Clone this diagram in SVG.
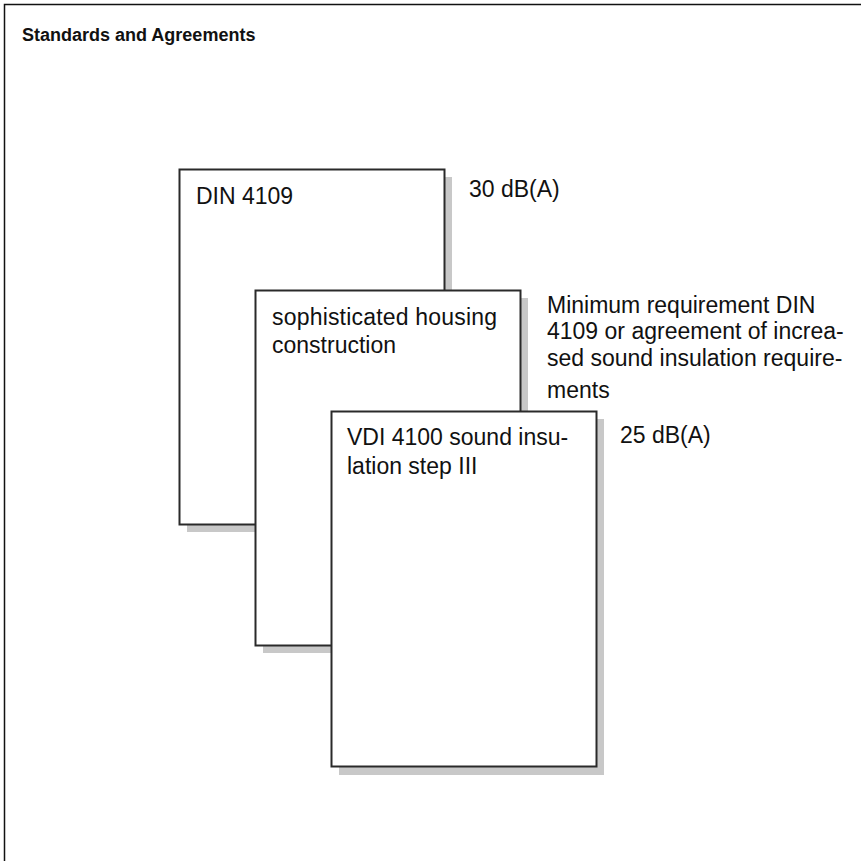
<svg xmlns="http://www.w3.org/2000/svg" width="861" height="861" viewBox="0 0 861 861">
<style>
.frame{fill:none;stroke:#111;stroke-width:1.5}
.box{fill:#fff;stroke:#2a2a2a;stroke-width:2}
.shadow{fill:#c8c8c8;stroke:none}
.t{font-family:"Liberation Sans",Arial,sans-serif;font-size:23px;fill:#111}
.title{font-family:"Liberation Sans",Arial,sans-serif;font-size:18px;font-weight:bold;fill:#111}
</style>
<rect width="861" height="861" fill="#fff"/>
<g id="frame">
<path class="frame" d="M4.5,861 V4.5 H861"/>
<text class="title" x="22" y="41">Standards and Agreements</text>
</g>
<g id="din4109">
<rect class="shadow" x="187" y="177" width="265" height="355"/>
<rect class="box" x="179.5" y="169.5" width="265" height="355"/>
<text class="t" x="196" y="204">DIN 4109</text>
<text class="t" x="469" y="197">30 dB(A)</text>
</g>
<g id="housing">
<rect class="shadow" x="263" y="298" width="265" height="355"/>
<rect class="box" x="255.5" y="290.5" width="265" height="355"/>
<text class="t" x="272" y="325" textLength="225" lengthAdjust="spacing">sophisticated housing</text>
<text class="t" x="272" y="353">construction</text>
<g>
<text class="t" x="547" y="313">Minimum requirement DIN</text>
<text class="t" x="547" y="339">4109 or agreement of increa-</text>
<text class="t" x="547" y="366">sed sound insulation require-</text>
<text class="t" x="547" y="398">ments</text>
</g>
</g>
<g id="vdi4100">
<rect class="shadow" x="339" y="419" width="265" height="356"/>
<rect class="box" x="331.5" y="411.5" width="265" height="355"/>
<text class="t" x="347" y="445">VDI 4100 sound insu-</text>
<text class="t" x="347" y="474">lation step III</text>
<text class="t" x="620" y="443">25 dB(A)</text>
</g>
<g id="connectors"></g>
</svg>
